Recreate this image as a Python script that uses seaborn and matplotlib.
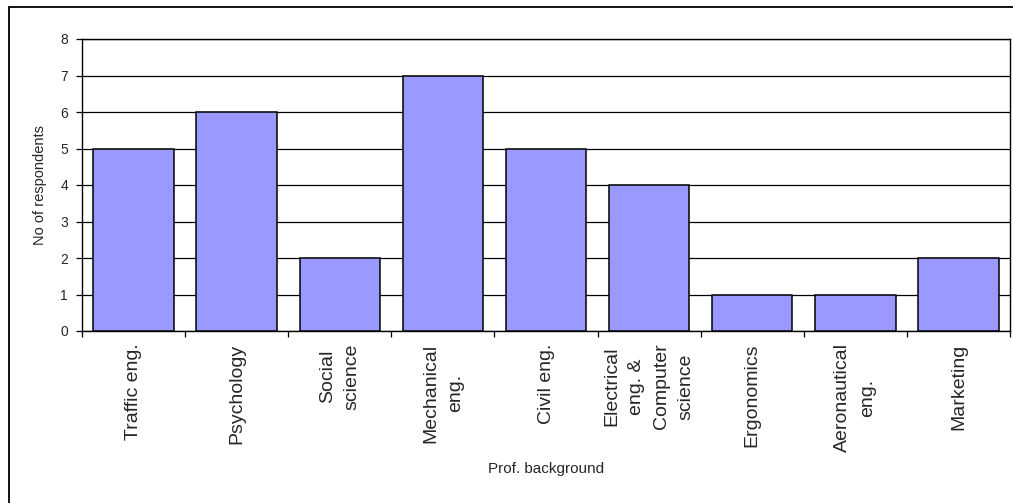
import matplotlib
matplotlib.use("Agg")
import matplotlib.pyplot as plt
from matplotlib.patches import Rectangle
from matplotlib.ticker import FixedLocator
import numpy as np
import pandas as pd
import seaborn as sns

categories = [
    "Traffic eng.",
    "Psychology",
    "Social\nscience",
    "Mechanical\neng.",
    "Civil eng.",
    "Electrical\neng. &\nComputer\nscience",
    "Ergonomics",
    "Aeronautical\neng.",
    "Marketing",
]
respondents = [5, 6, 2, 7, 5, 4, 1, 1, 2]
y_ticks = [0, 1, 2, 3, 4, 5, 6, 7, 8]

sns.set_style("white")
plt.rcParams["font.family"] = ["Liberation Sans", "DejaVu Sans"]

W, H = 1013, 503
fig = plt.figure(figsize=(W / 100, H / 100), dpi=100)
ax = fig.add_axes([82 / W, 1 - 331 / H, (1010 - 82) / W, (331 - 39) / H])

df = pd.DataFrame({"background": categories, "count": respondents})
sns.barplot(data=df, x="background", y="count", color="#9999FF", saturation=1,
            width=0.78, edgecolor="black", linewidth=1.1, ax=ax, zorder=3)

ax.set_xlim(-0.5, len(categories) - 0.5)
ax.set_ylim(0, 8)
ax.set_yticks(y_ticks)
ax.set_yticklabels([str(v) for v in y_ticks], fontsize=10)
ax.yaxis.grid(True, color="black", linewidth=0.9, zorder=0)
ax.set_axisbelow(True)

# category labels at bar centres, tick marks at category boundaries
ax.set_xticks(range(len(categories)))
ax.set_xticklabels(categories, rotation=90, fontsize=14, va="top",
                   ha="center", multialignment="center", linespacing=1.6)
ax.xaxis.set_minor_locator(FixedLocator(np.arange(-0.5, len(categories), 1.0)))
ax.tick_params(axis="x", which="major", length=0, pad=9)
ax.tick_params(axis="x", which="minor", length=4, width=0.9, color="black",
               direction="out", bottom=True)
ax.tick_params(axis="y", which="major", length=4, width=0.9, color="black",
               direction="out", left=True, pad=6)

for side in ["left", "right", "top", "bottom"]:
    ax.spines[side].set_visible(True)
    ax.spines[side].set_color("black")
    ax.spines[side].set_linewidth(1.0)

ax.set_ylabel("No of respondents", fontsize=10.5)
ax.yaxis.set_label_coords(-(82 - 47) / (1010 - 82), 0.5)
ax.set_xlabel("Prof. background", fontsize=11)
ax.xaxis.set_label_coords(0.5, (331 - 462) / (331 - 39))

# chart area border
fig.patches.append(Rectangle((9 / W, -0.2), 1.2, (1 - 7 / H) + 0.2,
                             transform=fig.transFigure, fill=False,
                             edgecolor="black", linewidth=1.3))

fig.savefig("out.png", dpi=100)
